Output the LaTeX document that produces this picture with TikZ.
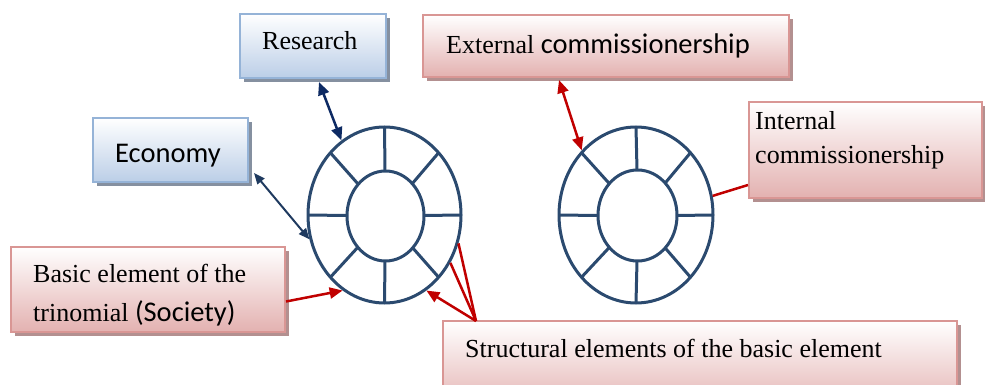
\documentclass[tikz,border=0pt]{standalone}
\usepackage{fontspec}
\setmainfont{Liberation Serif}
\newfontfamily\calib{Carlito}
\usetikzlibrary{arrows.meta,shapes.geometric,shadows,calc}
\definecolor{wheelblue}{HTML}{2B4A6F}
\definecolor{navyarrow}{HTML}{0D2A63}
\definecolor{slatearrow}{HTML}{1F3A5F}
\definecolor{redarrow}{HTML}{C00000}
\definecolor{blueedge}{HTML}{95B3D7}
\definecolor{bluefill}{HTML}{BBCEE7}
\definecolor{blueshadow}{HTML}{8590A0}
\definecolor{rededge}{HTML}{D99694}
\definecolor{redfill}{HTML}{E3B1B0}
\definecolor{redshadow}{HTML}{B39090}
\tikzset{
  bluebox/.style={rectangle, draw=blueedge, line width=2pt, top color=white, bottom color=bluefill,
    drop shadow={shadow xshift=4pt, shadow yshift=-4pt, fill=blueshadow, opacity=1}, inner sep=0pt},
  redbox/.style={rectangle, draw=rededge, line width=2pt, top color=white, bottom color=redfill,
    drop shadow={shadow xshift=4pt, shadow yshift=-4pt, fill=redshadow, opacity=1}, inner sep=0pt},
  wheel/.style={ellipse, draw=wheelblue, line width=3pt, inner sep=0pt},
  spoke/.style={draw=wheelblue, line width=3pt},
  txt/.style={anchor=base west, inner sep=0pt, font=\fontsize{26}{31}\selectfont},
  stxt/.style={anchor=base west, inner sep=0pt, font=\calib\fontsize{28.5}{34}\selectfont},
  navylink/.style={navyarrow, line width=2.5pt, {Triangle[length=13pt,width=11pt]}-{Triangle[length=13pt,width=11pt]}},
  slatelink/.style={slatearrow, line width=2pt, {Triangle[length=11pt,width=9pt]}-{Triangle[length=11pt,width=9pt]}},
  redlink/.style={redarrow, line width=2.5pt},
  redhead/.style={-{Triangle[length=13pt,width=11pt]}},
  redboth/.style={{Triangle[length=13pt,width=11pt]}-{Triangle[length=13pt,width=11pt]}},
}
\begin{document}
\begin{tikzpicture}[x=1pt,y=-1pt]
\useasboundingbox (0,0) rectangle (985,385);

% label boxes
\node[bluebox, minimum width=146pt, minimum height=64pt] (res) at (313,46) {};
\node[bluebox, minimum width=155pt, minimum height=64pt] (eco) at (170.5,150) {};
\node[redbox, minimum width=274pt, minimum height=85pt] (basic) at (148,289.5) {};
\node[redbox, minimum width=366pt, minimum height=62pt] (ext) at (606,46) {};
\node[redbox, minimum width=233pt, minimum height=96pt] (int) at (865.5,150) {};
\node[redbox, minimum width=514pt, minimum height=90pt] (str) at (700,366) {};

% texts
\node[txt] (resT) at (262,50) {Research};
\node[stxt] (ecoT) at (115,162) {Economy};
\node[txt] (basicT1) at (33,282) {Basic element of the};
\node[txt] (basicT2) at (33,321) {trinomial {\calib\fontsize{28.5}{34}\selectfont(Society)}};
\node[txt] (extT) at (446,54) {External {\calib\fontsize{28.5}{34}\selectfont commissionership}};
\node[txt] (intT1) at (755,130) {Internal};
\node[txt] (intT2) at (755,164) {commissionership};
\node[txt] (strT) at (465,357) {Structural elements of the basic element};

% wheels
\node[wheel, minimum width=153pt, minimum height=176pt] (wL) at (384.5,215) {};
\node[wheel, minimum width=77pt, minimum height=90pt] (wLi) at (385.5,216) {};
\foreach \a in {0,45,...,315}
  \draw[spoke] ($(385,215.5)+(\a:38.5 and 45)$) -- ($(384.5,215)+(\a:76.5 and 88)$);

\node[wheel, minimum width=154pt, minimum height=176pt] (wR) at (636,215) {};
\node[wheel, minimum width=79pt, minimum height=91pt] (wRi) at (637.5,215.5) {};
\foreach \a in {0,45,...,315}
  \draw[spoke] ($(637,215.5)+(\a:39.5 and 45.5)$) -- ($(636,215)+(\a:77 and 88)$);

% connector end points
\coordinate (resA) at (319,82);
\coordinate (ecoA) at (254,173);
\coordinate (strApex) at (476,321);
\coordinate (extA) at (559,80);

% connectors
\draw[navylink] (resA) -- (wL.120);
\draw[slatelink] (ecoA) -- (wL.198);
\draw[redlink, redhead] ([yshift=-12pt]basic.east) -- (wL.241);
\draw[redlink] (strApex) -- (wL.-21);
\draw[redlink] (strApex) -- (wL.-36);
\draw[redlink, redhead] (strApex) -- (wL.-61);
\draw[redlink, redboth] (extA) -- (wR.130);
\draw[redlink] ([yshift=-35pt]int.west) -- (wR.14);
\end{tikzpicture}
\end{document}
